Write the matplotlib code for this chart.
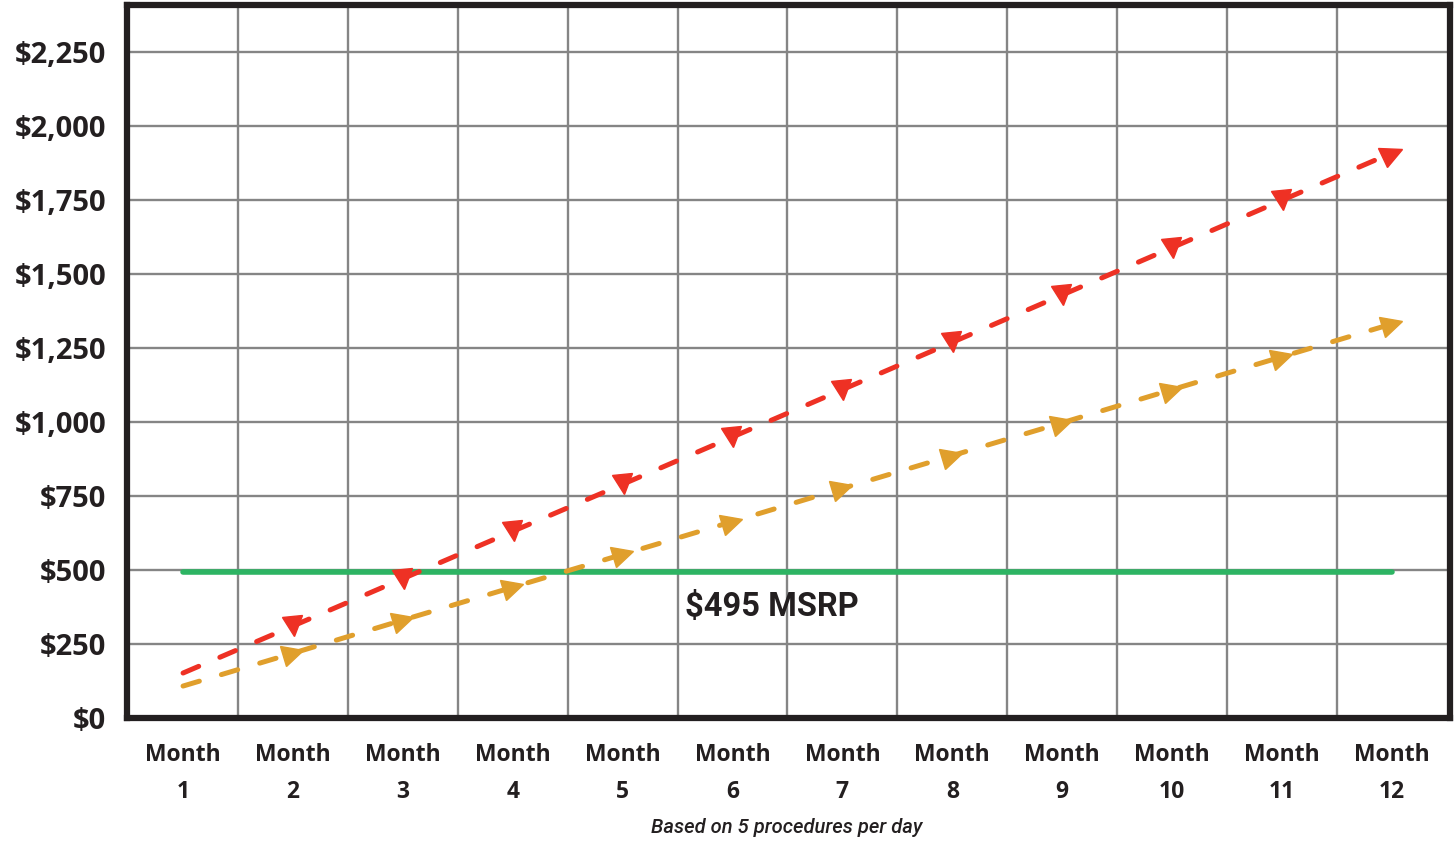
import matplotlib.pyplot as plt
import numpy as np
from matplotlib.markers import MarkerStyle
from matplotlib.transforms import Affine2D

plt.rcParams['font.family'] = ['Open Sans', 'DejaVu Sans']

# values
months = [1, 2, 3, 4, 5, 6, 7, 8, 9, 10, 11, 12]
month_labels = ['Month\n%d' % m for m in months]
red_vals = [152, 311, 471, 631, 790, 950, 1110, 1270, 1430, 1590, 1750, 1910]
orange_vals = [108, 219, 331, 442, 553, 664, 776, 887, 998, 1110, 1221, 1332]
msrp = 495
y_ticks = [0, 250, 500, 750, 1000, 1250, 1500, 1750, 2000, 2250]
y_labels = ['$0', '$250', '$500', '$750', '$1,000', '$1,250', '$1,500',
            '$1,750', '$2,000', '$2,250']

red = '#ee3124'
orange = '#e09f2c'
green = '#2db463'
dark = '#231f20'

fig = plt.figure(figsize=(14.55, 8.44), dpi=100)
ax = fig.add_axes([0.0873, 0.1493, 0.9093, 0.8447])
ax.set_xlim(0.49, 12.53)
ax.set_ylim(0, 2410)

# grid: vertical lines between months, horizontal at each tick
for x in np.arange(1.5, 12.5, 1.0):
    ax.axvline(x, color='#858585', lw=1.7, zorder=1)
for y in y_ticks[1:]:
    ax.axhline(y, color='#858585', lw=1.7, zorder=1)

ax.plot([months[0], months[-1]], [msrp, msrp], color=green, lw=4,
        solid_capstyle='round', zorder=3)

ax.plot(months, red_vals, color=red, lw=3.6, linestyle=(0, (3.4, 4.6)),
        dash_capstyle='round', zorder=4)
ax.plot(months, orange_vals, color=orange, lw=3.6, linestyle=(0, (3.4, 4.6)),
        dash_capstyle='round', zorder=4)

# arrow markers aligned with the on-screen slope of each line
fig.canvas.draw()
def screen_angle(xs, ys):
    p = ax.transData.transform(np.column_stack([xs, ys]))
    return np.degrees(np.arctan2(p[-1, 1] - p[0, 1], p[-1, 0] - p[0, 0]))

a_red = screen_angle(months, red_vals)
a_or = screen_angle(months, orange_vals)

m_red_mid = MarkerStyle('>', transform=Affine2D().rotate_deg(-85))
m_red_end = MarkerStyle('>', transform=Affine2D().rotate_deg(a_red))
m_or = MarkerStyle('>', transform=Affine2D().rotate_deg(a_or))

ax.plot(months[1:-1], red_vals[1:-1], linestyle='none', marker=m_red_mid,
        ms=15, color=red, zorder=5)
ax.plot(months[-1:], red_vals[-1:], linestyle='none', marker=m_red_end,
        ms=15, color=red, zorder=5)
ax.plot(months[1:], orange_vals[1:], linestyle='none', marker=m_or,
        ms=15, color=orange, zorder=5)

ax.text(6.36, 375, '$495 MSRP', fontsize=23.5, fontweight='bold', color=dark,
        ha='center', va='center', family=['Roboto', 'DejaVu Sans'], zorder=6)

ax.set_xticks(months)
ax.set_xticklabels(month_labels, fontsize=16.5, fontweight='bold', color=dark,
                   linespacing=1.75)
ax.set_yticks(y_ticks)
ax.set_yticklabels(y_labels, fontsize=21, fontweight='bold', color=dark)
ax.tick_params(axis='both', length=0)
ax.tick_params(axis='x', pad=18)
ax.tick_params(axis='y', pad=15)

for s in ax.spines.values():
    s.set_linewidth(4.5)
    s.set_color(dark)
    s.set_zorder(7)

fig.text(0.541, 0.02, 'Based on 5 procedures per day', fontsize=14.5,
         style='italic', fontweight='medium', color=dark, ha='center',
         va='center', family=['Roboto', 'DejaVu Sans'])

plt.savefig('out.png', dpi=100)
